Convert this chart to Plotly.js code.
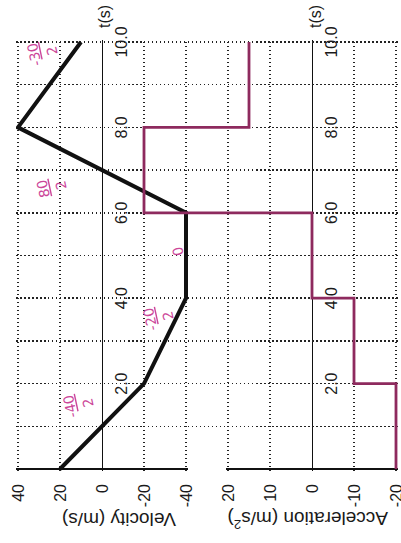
<!DOCTYPE html>
<html><head><meta charset="utf-8">
<script src="https://cdn.plot.ly/plotly-3.0.1.min.js"></script>
<style>
html,body{margin:0;padding:0;background:#fff;overflow:hidden;}
#wrap{position:relative;width:401px;height:543px;overflow:hidden;background:#fff;}
#chart{position:absolute;left:0;top:0;width:543px;height:401px;transform-origin:0 0;}
#chart.rot{transform:translateY(543px) rotate(-90deg);}
</style></head><body>
<div id="wrap"><div id="chart"></div></div>
<script>
// ---- data ----
const time = [0, 2, 4, 6, 8, 10];
const velocity = [20, -20, -40, -40, 40, 10];
const accTime = [0, 2, 4, 6, 8, 10];
const acceleration = [-20, -10, 0, 40, 15, 15];

const timeTicks = [2, 4, 6, 8, 10];
const timeTickText = ['2.0', '4.0', '6.0', '8.0', '10.0'];
const timeGrid = [1, 2, 3, 4, 5, 6, 7, 8, 9, 10];
const velTicks = [-40, -20, 0, 20, 40];
const velTickText = ['-40', '-20', '0', '20', '40'];
const accTicks = [-20, -10, 0, 10, 20];
const accTickText = ['-20', '-10', '0', '10', '20'];

const noteText = ['-<u>40</u><br>2', '-<u>20</u><br>2', '0', '<u>80</u><br>2', '-<u>30</u><br>2'];
const noteTime = [1.5, 3.55, 5.1, 6.6, 9.75];
const noteVel = [11, -27, -36, 24, 28];

// ---- geometry of the unrotated figure (it is turned by CSS once drawn) ----
const W = 543, H = 401, PAD = 2;
// pixel frame of each scale: [start px, end px, value at start, value at end]
const tFrame = [74, 501, 0, 10];          // left -> right
const vFrame = [186, 18, -40, 40];        // bottom -> top (y px measured from the top)
const aFrame = [396, 228, -20, 20];

function xSpec(f) {
  const k = (f[3] - f[2]) / (f[1] - f[0]);
  return {domain: [(f[0] - PAD) / W, (f[1] + PAD) / W], range: [f[2] - PAD * k, f[3] + PAD * k]};
}
function ySpec(f, bottomPx, topPx) {
  const k = (f[3] - f[2]) / (f[0] - f[1]);
  const b = bottomPx === undefined ? f[0] + PAD : bottomPx;
  const t = topPx === undefined ? f[1] - PAD : topPx;
  return {domain: [1 - b / H, 1 - t / H], range: [f[2] - (b - f[0]) * k, f[3] + (f[1] - t) * k]};
}
const tS = xSpec(tFrame);
const vS = ySpec(vFrame), aS = ySpec(aFrame);
// one layer spanning both panels and the gap, for the curves and the time grid
const spanBottom = aFrame[0] + PAD, spanTop = vFrame[1] - PAD;
const vSpan = ySpec(vFrame, spanBottom, spanTop), aSpan = ySpec(aFrame, spanBottom, spanTop);

const FONT = 'Liberation Sans, Arial, Helvetica, sans-serif';
const INK = '#1a1a1a';
const DOTS = {gridcolor: '#222', gridwidth: 1.5, griddash: '1.5px,2.5px'};
const base = Object.assign({ticks: '', zeroline: false, showline: false, fixedrange: true,
  ticklabeloverflow: 'allow', tickfont: {family: FONT, size: 16, color: INK}}, DOTS);
const hidden = {ticks: '', showticklabels: false, showgrid: false, zeroline: false, showline: false, fixedrange: true};

const traces = [
  {x: time, y: velocity, xaxis: 'x3', yaxis: 'y3', mode: 'lines',
   line: {color: '#111', width: 4}, hoverinfo: 'skip', showlegend: false},
  {x: accTime, y: acceleration, xaxis: 'x3', yaxis: 'y4', mode: 'lines',
   line: {color: '#8e2a5e', width: 2.8, shape: 'hv'}, hoverinfo: 'skip', showlegend: false}
];

const annotations = [
  {xref: 'paper', yref: 'paper', x: 23 / W, y: 1 - 119 / H, xanchor: 'center', yanchor: 'middle',
   text: 'Velocity (m/s)', textangle: -90, showarrow: false, font: {family: FONT, size: 19, color: INK}},
  {xref: 'paper', yref: 'paper', x: 23 / W, y: 1 - 308 / H, xanchor: 'center', yanchor: 'middle',
   text: 'Acceleration (m/s<sup>2</sup>)', textangle: -90, showarrow: false,
   font: {family: FONT, size: 19, color: INK}},
  {xref: 'x', yref: 'y', x: 10, y: 0, xanchor: 'left', yanchor: 'middle', xshift: 12, yshift: -3,
   text: 't(s)', showarrow: false, font: {family: FONT, size: 16, color: INK}},
  {xref: 'x2', yref: 'y2', x: 10, y: 0, xanchor: 'left', yanchor: 'middle', xshift: 12, yshift: -3,
   text: 't(s)', showarrow: false, font: {family: FONT, size: 16, color: INK}}
];
noteText.forEach((t, i) => annotations.push({
  xref: 'x', yref: 'y', x: noteTime[i], y: noteVel[i], text: t, showarrow: false, align: 'center',
  xanchor: 'center', yanchor: 'middle', textangle: -12,
  font: {family: 'DejaVu Sans, sans-serif', size: 14, color: '#cc4699'}
}));

const timeAxis = (pos) => Object.assign({}, base, {domain: tS.domain, range: tS.range,
  anchor: 'free', position: pos, tickmode: 'array', tickvals: timeTicks, ticktext: timeTickText,
  ticklabelstandoff: 8, showgrid: false,
  zeroline: true, zerolinecolor: '#111', zerolinewidth: 1.5});
const valueAxis = (spec, anchor, vals, text) => Object.assign({}, base, {domain: spec.domain, range: spec.range,
  anchor: anchor, tickmode: 'array', tickvals: vals, ticktext: text, ticklabelstandoff: 12, showgrid: true,
  zeroline: true, zerolinecolor: '#111', zerolinewidth: 1});

const layout = {
  width: W, height: H,
  margin: {l: 0, r: 0, t: 0, b: 0},
  paper_bgcolor: '#ffffff', plot_bgcolor: 'rgba(0,0,0,0)',
  showlegend: false,
  font: {family: FONT, color: INK},
  xaxis: timeAxis(1 - 102 / H),
  yaxis: valueAxis(vS, 'x', velTicks, velTickText),
  xaxis2: timeAxis(1 - 312 / H),
  yaxis2: valueAxis(aS, 'x2', accTicks, accTickText),
  xaxis3: Object.assign({}, base, {domain: tS.domain, range: tS.range, anchor: 'y3',
    tickmode: 'array', tickvals: timeGrid, showticklabels: false, showgrid: true}),
  yaxis3: Object.assign({}, hidden, {domain: vSpan.domain, range: vSpan.range, anchor: 'x3'}),
  yaxis4: Object.assign({}, hidden, {range: aSpan.range, overlaying: 'y3', anchor: 'x3'}),
  annotations: annotations
};

// Plotly lays out its texts before the page is turned, then the finished figure is rotated.
Plotly.newPlot('chart', traces, layout, {staticPlot: true, displayModeBar: false})
  .then(function () { document.getElementById('chart').classList.add('rot'); });
</script>
</body></html>
